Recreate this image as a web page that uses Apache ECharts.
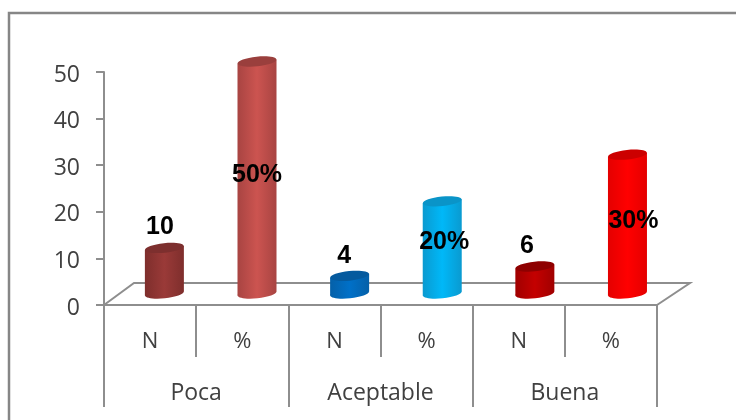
<!DOCTYPE html>
<html><head><meta charset="utf-8">
<style>html,body{margin:0;padding:0;background:#fff}#c{width:736px;height:420px}</style>
<script src="https://cdn.jsdelivr.net/npm/echarts@6/dist/echarts.min.js"></script></head>
<body><div id="c"></div>
<script>
const groups = ['Poca','Aceptable','Buena'];
const categories = ['N','%','N','%','N','%'];
const values = [10,50,4,20,6,30];
const labels = ['10','50%','4','20%','6','30%'];
const yTicks = [0,10,20,30,40,50];
const sideColors = ['#9a3a38','#cc5450','#0070c8','#00b8f8','#c40000','#ff0000'];
const edgeColors = ['#7e2e2c','#a84442','#0560a8','#0a9ad0','#a00000','#e40000'];
const capColors = ['#7d2f2e','#9a3f3d','#055a9e','#0a94c8','#8e0000','#cc0000'];
const labelNudge = [[-4.5,-21],[0,-2],[-5.5,-20],[2,-5],[-8,-20],[6,-3]];

const AXIS = '#8e8e8e', TEXT = '#404040';
const chart = echarts.init(document.getElementById('c'), null, {renderer:'canvas'});
const DX = 14.3, DXS = 0.45, DY = -11.5, DYTOP = -10.5, RX = 19.5, RY = 4.8, TILT = 2;

function grad(i){
  return new echarts.graphic.LinearGradient(0,0,1,0,[
    {offset:0,color:edgeColors[i]},{offset:0.5,color:sideColors[i]},{offset:1,color:edgeColors[i]}]);
}
function renderBar(params, api){
  const i = api.value(0), v = api.value(1);
  const top = api.coord([i,v]), base = api.coord([i,0]);
  const cx = top[0]+DX+DXS*i, ty = top[1]+DYTOP, by = base[1]+DY;
  const rot = Math.atan2(TILT,RX);
  const children = [
    {type:'ellipse',shape:{cx:cx,cy:by,rx:RX,ry:RY},originX:cx,originY:by,rotation:rot,style:{fill:grad(i)}},
    {type:'polygon',shape:{points:[[cx-RX,ty+TILT],[cx+RX,ty-TILT],[cx+RX,by-TILT],[cx-RX,by+TILT]]},style:{fill:grad(i)}},
    {type:'ellipse',shape:{cx:cx,cy:ty,rx:RX,ry:RY},originX:cx,originY:ty,rotation:rot,style:{fill:capColors[i]}},
    {type:'text',x:cx+labelNudge[i][0],y:(i%2? (ty+by)/2 : ty)+labelNudge[i][1],
      style:{text:labels[i],fill:'#000',font:'bold 25px "Liberation Sans"',align:'center',verticalAlign:'middle'},z2:10}
  ];
  return {type:'group',children:children};
}
chart.setOption({
  animation:false,
  backgroundColor:'#fff',
  grid:{left:104,top:72,width:553,height:233},
  graphic:[
    {type:'polyline',z:0,shape:{points:[[9,420],[9,13],[736,13]]},style:{fill:'none',stroke:'#868686',lineWidth:2.5}},
    {type:'polyline',z:0,shape:{points:[[104,305],[134,283],[690,283],[657,305]]},style:{fill:'none',stroke:AXIS,lineWidth:2}}
  ],
  xAxis:[
    {type:'category',data:categories,position:'bottom',
      axisLine:{lineStyle:{color:AXIS,width:2}},
      axisTick:{show:true,length:52,alignWithLabel:false,lineStyle:{color:AXIS,width:2}},
      axisLabel:{margin:26,color:TEXT,fontSize:22,fontFamily:'Open Sans',interval:0}},
    {type:'category',data:groups,position:'bottom',
      axisLine:{lineStyle:{color:AXIS,width:2}},
      axisTick:{show:true,length:102,alignWithLabel:false,lineStyle:{color:AXIS,width:2}},
      axisLabel:{margin:77,color:TEXT,fontSize:23,fontFamily:'Open Sans',interval:0}}
  ],
  yAxis:{type:'value',min:0,max:50,interval:10,
    axisLine:{show:true,lineStyle:{color:AXIS,width:2}},
    axisTick:{show:true,length:8,lineStyle:{color:AXIS,width:2}},
    splitLine:{show:false},
    axisLabel:{margin:24,color:TEXT,fontSize:23,fontFamily:'Open Sans',verticalAlign:'top',lineHeight:6,
      customValues:yTicks}},
  series:[{type:'custom',xAxisIndex:0,z:5,clip:false,
    data:values.map((v,i)=>[i,v]),encode:{x:0,y:1},renderItem:renderBar}]
});
</script></body></html>
